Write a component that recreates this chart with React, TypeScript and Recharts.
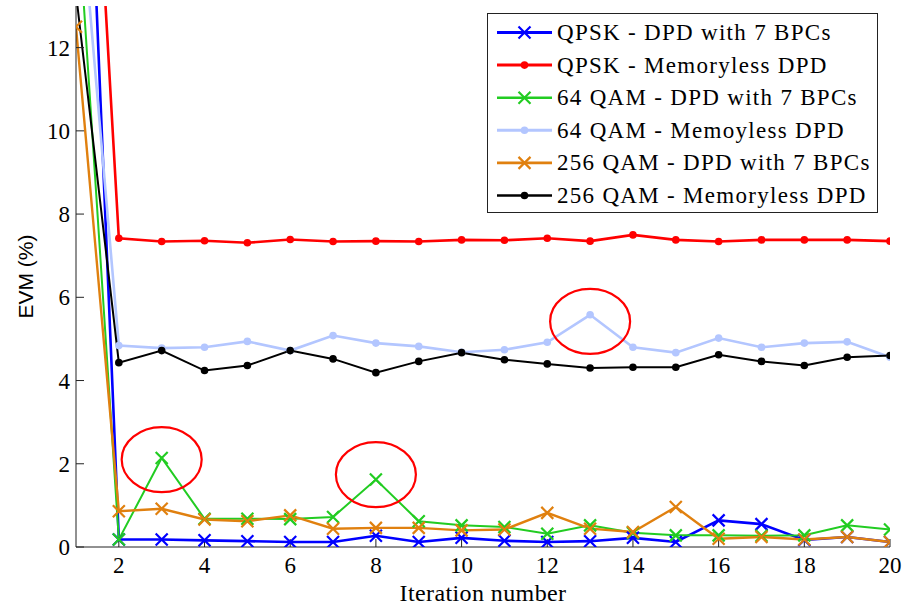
import React from 'react'
import { LineChart, Line, XAxis, YAxis, ReferenceDot, Legend } from 'recharts'

const iterations = [1, 2, 3, 4, 5, 6, 7, 8, 9, 10, 11, 12, 13, 14, 15, 16, 17, 18, 19, 20]

const qpskBpc = [24.8, 0.18, 0.18, 0.16, 0.14, 0.12, 0.12, 0.27, 0.12, 0.22, 0.15, 0.12, 0.14, 0.22, 0.12, 0.64, 0.55, 0.17, 0.24, 0.12]
const qpskMemoryless = [25.4, 7.42, 7.34, 7.36, 7.31, 7.39, 7.34, 7.35, 7.34, 7.38, 7.37, 7.42, 7.35, 7.5, 7.38, 7.34, 7.38, 7.38, 7.38, 7.35]
const qam64Bpc = [15.9, 0.18, 2.14, 0.68, 0.68, 0.67, 0.72, 1.62, 0.62, 0.52, 0.48, 0.32, 0.52, 0.34, 0.28, 0.28, 0.27, 0.28, 0.52, 0.42]
const qam64Memoryless = [16.8, 4.84, 4.78, 4.8, 4.94, 4.72, 5.08, 4.9, 4.82, 4.68, 4.74, 4.92, 5.58, 4.8, 4.67, 5.02, 4.8, 4.9, 4.93, 4.56]
const qam256Bpc = [12.5, 0.86, 0.92, 0.66, 0.62, 0.76, 0.44, 0.46, 0.46, 0.4, 0.42, 0.82, 0.44, 0.36, 0.96, 0.2, 0.24, 0.18, 0.24, 0.12]
const qam256Memoryless = [13.3, 4.43, 4.72, 4.24, 4.36, 4.72, 4.52, 4.19, 4.46, 4.67, 4.5, 4.4, 4.3, 4.32, 4.32, 4.62, 4.46, 4.36, 4.56, 4.6]

const xTicks = [2, 4, 6, 8, 10, 12, 14, 16, 18, 20]
const yTicks = [0, 2, 4, 6, 8, 10, 12]

// circled spikes
const spikeX = [3, 8, 13]
const spikeY = [2.1, 1.74, 5.42]

const serif = 'Liberation Serif, DejaVu Serif, serif'
const sans = 'Liberation Sans, Arial, sans-serif'
const axisColor = '#222'

type Marker = 'cross' | 'dot'

const series: { key: string; name: string; color: string; width: number; marker: Marker }[] = [
  { key: 'qpskBpc', name: 'QPSK - DPD with 7 BPCs', color: '#0000ff', width: 2.6, marker: 'cross' },
  { key: 'qpskMl', name: 'QPSK - Memoryless DPD', color: '#ff0000', width: 2.6, marker: 'dot' },
  { key: 'qam64Bpc', name: '64 QAM - DPD with 7 BPCs', color: '#22cc22', width: 2, marker: 'cross' },
  { key: 'qam64Ml', name: '64 QAM - Memoyless DPD', color: '#b3c6ff', width: 2.6, marker: 'dot' },
  { key: 'qam256Bpc', name: '256 QAM - DPD with 7 BPCs', color: '#e0800f', width: 2.4, marker: 'cross' },
  { key: 'qam256Ml', name: '256 QAM - Memoryless DPD', color: '#000000', width: 2, marker: 'dot' },
]

const data = iterations.map((iter, i) => ({
  iter,
  qpskBpc: qpskBpc[i],
  qpskMl: qpskMemoryless[i],
  qam64Bpc: qam64Bpc[i],
  qam64Ml: qam64Memoryless[i],
  qam256Bpc: qam256Bpc[i],
  qam256Ml: qam256Memoryless[i],
}))

function markerShape(marker: Marker, color: string, cx: number, cy: number, k?: string | number) {
  if (marker === 'cross') {
    const s = 6
    return (
      <path
        key={k}
        d={`M${cx - s},${cy - s}L${cx + s},${cy + s}M${cx - s},${cy + s}L${cx + s},${cy - s}`}
        stroke={color}
        strokeWidth={2.2}
        fill="none"
      />
    )
  }
  return <circle key={k} cx={cx} cy={cy} r={3.8} fill={color} stroke="none" />
}

const makeDot = (marker: Marker, color: string) => (props: any) => {
  const { cx, cy, index } = props
  if (cx == null || cy == null) return <g key={`d-${index}`} />
  return markerShape(marker, color, cx, cy, `d-${index}`)
}

const ellipseShape = (props: any) => (
  <ellipse cx={props.cx} cy={props.cy} rx={40} ry={32.5} fill="none" stroke="#ff0000" strokeWidth={2.2} />
)

function LegendBox() {
  const rowGap = 32.6
  return (
    <div style={{ width: 391, height: 200, border: `1px solid ${axisColor}`, background: '#fff', boxSizing: 'border-box' }}>
      <svg width={389} height={198}>
        {series.map((s, i) => {
          const y = 18.5 + i * rowGap
          return (
            <g key={s.key}>
              <line x1={9} x2={64} y1={y} y2={y} stroke={s.color} strokeWidth={s.width + 0.4} />
              {markerShape(s.marker, s.color, 36.5, y)}
              <text x={69} y={y + 7.5} style={{ fontFamily: serif }} fontSize={23} letterSpacing={1.3} fill="#000">
                {s.name}
              </text>
            </g>
          )
        })}
      </svg>
    </div>
  )
}

export default function App() {
  const tickStyle = { fill: '#000', fontSize: 23, style: { fontFamily: serif } }
  return (
    <div style={{ position: 'absolute', left: 0, top: 0, background: '#fff' }}>
      <LineChart width={905} height={608} data={data} margin={{ top: 6, right: 15, bottom: 1, left: 16 }}>
        <XAxis
          dataKey="iter"
          type="number"
          domain={[1, 20]}
          ticks={xTicks}
          allowDataOverflow
          height={60}
          stroke={axisColor}
          tickSize={-8}
          tickMargin={18}
          tick={tickStyle}
          label={{
            content: (p: any) => (
              <text
                x={p.viewBox.x + p.viewBox.width / 2}
                y={p.viewBox.y + 54}
                textAnchor="middle"
                style={{ fontFamily: serif }}
                fontSize={24}
                letterSpacing={0.4}
                fill="#000"
              >
                Iteration number
              </text>
            ),
          }}
        />
        <XAxis
          xAxisId="top"
          dataKey="iter"
          type="number"
          orientation="top"
          domain={[1, 20]}
          ticks={xTicks}
          height={0}
          stroke={axisColor}
          tickSize={-8}
          tick={false}
        />
        <YAxis
          type="number"
          domain={[0, 13]}
          ticks={yTicks}
          allowDataOverflow
          width={60}
          stroke={axisColor}
          tickSize={-8}
          tickMargin={14}
          tick={tickStyle}
          label={{
            content: (p: any) => {
              const x = p.viewBox.x + 9
              const y = p.viewBox.y + p.viewBox.height / 2
              return (
                <text
                  x={x}
                  y={y}
                  transform={`rotate(-90 ${x} ${y})`}
                  textAnchor="middle"
                  dominantBaseline="central"
                  style={{ fontFamily: sans }}
                  fontSize={21}
                  fill="#000"
                >
                  EVM (%)
                </text>
              )
            },
          }}
        />
        <YAxis
          yAxisId="right"
          orientation="right"
          type="number"
          domain={[0, 13]}
          ticks={yTicks}
          width={0}
          stroke={axisColor}
          tickSize={-8}
          tick={false}
        />
        {series.map((s) => (
          <Line
            key={s.key}
            type="linear"
            dataKey={s.key}
            name={s.name}
            stroke={s.color}
            strokeWidth={s.width}
            dot={makeDot(s.marker, s.color)}
            activeDot={false}
            isAnimationActive={false}
          />
        ))}
        {spikeX.map((x, i) => (
          <ReferenceDot key={`spike-${x}`} x={x} y={spikeY[i]} r={40} shape={ellipseShape} />
        ))}
        <Legend
          layout="vertical"
          align="center"
          verticalAlign="middle"
          content={() => <LegendBox />}
          wrapperStyle={{ top: 13, left: 487, width: 391, height: 200 }}
        />
      </LineChart>
    </div>
  )
}
